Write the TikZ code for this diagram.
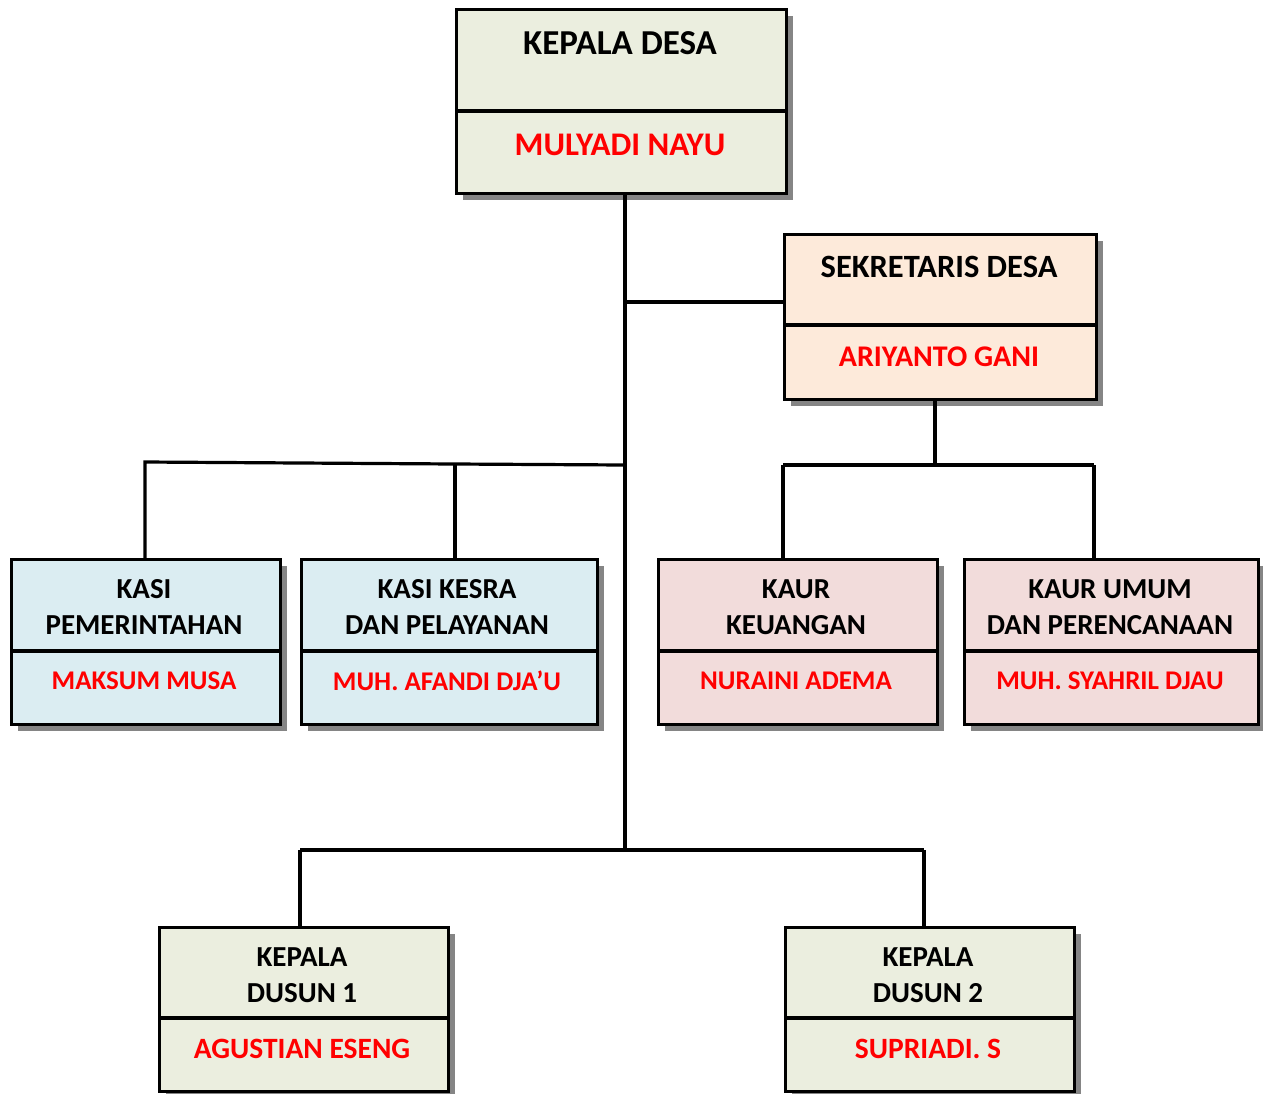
\documentclass[tikz,border=0pt]{standalone}
\usepackage{fontspec}
\setmainfont{Carlito}
\usetikzlibrary{shadows,calc}
\definecolor{cKD}{HTML}{EBEEDF}
\definecolor{cSK}{HTML}{FDEADA}
\definecolor{cKS}{HTML}{DBEDF2}
\definecolor{cKU}{HTML}{F2DCDB}
\definecolor{cDS}{HTML}{EBEEDF}
\definecolor{cRed}{HTML}{FF0000}
\definecolor{cShadow}{HTML}{858585}
\tikzset{
  box/.style={draw=black, line width=3.2pt, rectangle, anchor=north west, inner sep=0pt,
    drop shadow={shadow xshift=6pt, shadow yshift=-6pt, fill=cShadow, opacity=1}},
  divider/.style={draw=black, line width=3.2pt},
  conn/.style={draw=black, line width=3.2pt},
  ttl/.style={font=\fontsize{29}{36}\selectfont\bfseries, text=black, align=center, inner sep=0pt},
  nm/.style={font=\fontsize{27}{36}\selectfont\bfseries, text=cRed, align=center, inner sep=0pt},
}
\begin{document}
\begin{tikzpicture}[x=1pt,y=-1pt]
\useasboundingbox[fill=white] (0,0) rectangle (1263,1093);

% boxes
\node[box, fill=cKD, minimum width=330pt, minimum height=184pt] (kd) at (455,8) {};
\node[box, fill=cSK, minimum width=312pt, minimum height=165pt] (sk) at (783,233) {};
\node[box, fill=cKS, minimum width=269pt, minimum height=165pt] (kp) at (10,558) {};
\node[box, fill=cKS, minimum width=296pt, minimum height=165pt] (kk) at (300,558) {};
\node[box, fill=cKU, minimum width=279pt, minimum height=165pt] (ku) at (657,558) {};
\node[box, fill=cKU, minimum width=294pt, minimum height=165pt] (kr) at (963,558) {};
\node[box, fill=cDS, minimum width=289pt, minimum height=164pt] (d1) at (158,926) {};
\node[box, fill=cDS, minimum width=289pt, minimum height=164pt] (d2) at (784,926) {};

% dividers
\draw[divider] (kd.west |- 0,111) -- (kd.east |- 0,111);
\draw[divider] (sk.west |- 0,325) -- (sk.east |- 0,325);
\draw[divider] (kp.west |- 0,651) -- (kp.east |- 0,651);
\draw[divider] (kk.west |- 0,651) -- (kk.east |- 0,651);
\draw[divider] (ku.west |- 0,651) -- (ku.east |- 0,651);
\draw[divider] (kr.west |- 0,651) -- (kr.east |- 0,651);
\draw[divider] (d1.west |- 0,1018) -- (d1.east |- 0,1018);
\draw[divider] (d2.west |- 0,1018) -- (d2.east |- 0,1018);

% texts
\node[ttl, font=\fontsize{35}{40}\selectfont\bfseries] (kdT) at (620,43) {KEPALA DESA};
\node[nm, font=\fontsize{33}{40}\selectfont\bfseries] (kdN) at (620,145) {MULYADI NAYU};
\node[ttl, font=\fontsize{32.5}{40}\selectfont\bfseries] (skT) at (939,267) {SEKRETARIS DESA};
\node[nm, font=\fontsize{30}{40}\selectfont\bfseries] (skN) at (939,357) {ARIYANTO GANI};
\node[ttl] (kpT) at (144,607) {KASI\\PEMERINTAHAN};
\node[nm] (kpN) at (144,681) {MAKSUM MUSA};
\node[ttl] (kkT) at (447,607) {KASI KESRA\\DAN PELAYANAN};
\node[nm] (kkN) at (447,681) {MUH. AFANDI DJA’U};
\node[ttl] (kuT) at (796,607) {KAUR\\KEUANGAN};
\node[nm] (kuN) at (796,681) {NURAINI ADEMA};
\node[ttl] (krT) at (1110,607) {KAUR UMUM\\DAN PERENCANAAN};
\node[nm] (krN) at (1110,681) {MUH. SYAHRIL DJAU};
\node[ttl] (d1T) at (302,975) {KEPALA\\DUSUN 1};
\node[nm, font=\fontsize{29.5}{36}\selectfont\bfseries] (d1N) at (302,1049) {AGUSTIAN ESENG};
\node[ttl] (d2T) at (928,975) {KEPALA\\DUSUN 2};
\node[nm, font=\fontsize{29.5}{36}\selectfont\bfseries] (d2N) at (928,1049) {SUPRIADI. S};

% junctions
\coordinate (jsk) at (625,302);
\coordinate (jks) at (625,465);
\coordinate (jkl) at (145,462);
\coordinate (jkm) at (455,464);
\coordinate (jds) at (625,850);
\coordinate (jd1) at (300,850);
\coordinate (jd2) at (924,850);
\coordinate (jsu) at (935,465);
\coordinate (jul) at (783,465);
\coordinate (jur) at (1094,465);

% connectors
\draw[conn] (kd.south -| jds) -- (jds);
\draw[conn] (jsk) -- (sk.west |- jsk);
\draw[conn] (jks) -- (jkm) -- (jkl) -- (kp.north -| jkl);
\draw[conn] (jkm) -- (kk.north -| jkm);
\draw[conn] (jd1 |- jds) -- (jd2);
\draw[conn] (jd1) -- (d1.north -| jd1);
\draw[conn] (jd2) -- (d2.north -| jd2);
\draw[conn] (sk.south -| jsu) -- (jsu);
\draw[conn] (jul) -- (jur);
\draw[conn] (jul) -- (ku.north -| jul);
\draw[conn] (jur) -- (kr.north -| jur);
\end{tikzpicture}
\end{document}
